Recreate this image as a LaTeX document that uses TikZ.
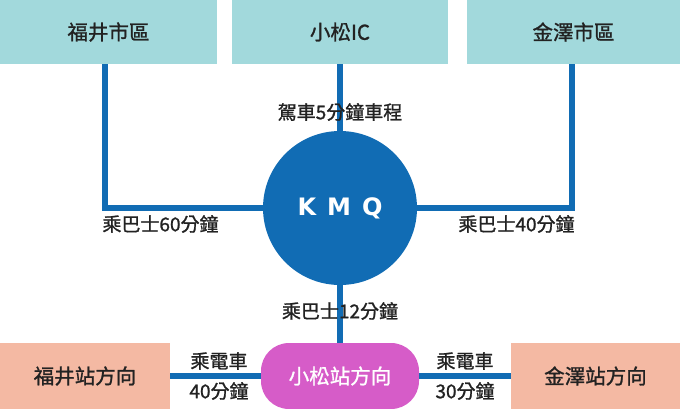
\documentclass[tikz,border=0pt]{standalone}
\usepackage{fontspec}
\setmainfont{Noto Sans CJK TC}[FakeBold=1.2]
\newfontfamily\logofont{DejaVu Sans}
\usetikzlibrary{positioning}
\definecolor{areateal}{HTML}{A2D9DC}
\definecolor{routeblue}{HTML}{116CB4}
\definecolor{pillpink}{HTML}{D65CC8}
\definecolor{stationsalmon}{HTML}{F4B9A3}
\definecolor{inkgrey}{HTML}{222222}

\begin{document}
\begin{tikzpicture}[x=1pt,y=-1pt,
			area/.style = {fill = areateal, minimum height = 64pt, inner sep = 0pt,
				text = inkgrey, font = \fontsize{20.5}{24}\selectfont},
			station/.style = {fill = stationsalmon, minimum height = 66pt, inner sep = 0pt,
				text = inkgrey, font = \fontsize{20.5}{24}\selectfont},
			hub/.style = {circle, fill = routeblue, minimum size = 154pt, inner sep = 0pt,
				text = white, font = \logofont\bfseries\fontsize{24}{28}\selectfont},
			pill/.style = {fill = pillpink, rounded corners = 28pt, minimum width = 158pt,
				minimum height = 66pt, inner sep = 0pt, text = white,
				font = \fontsize{20.5}{24}\selectfont},
			route/.style = {draw = routeblue, line width = 6pt},
			ride/.style = {inner sep = 0pt, text = inkgrey, font = \fontsize{19}{22}\selectfont}
		]
			\useasboundingbox (0,0) rectangle (680,408);
			% areas on top
			\node (fukuishi) [area, minimum width = 217pt] at (108.5,32) {福井市區};
			\node (komatsuic) [area, minimum width = 216pt] at (340,32) {小松IC};
			\node (kanazawashi) [area, minimum width = 213pt] at (573.5,32) {金澤市區};
			% hub
			\node (kmq) [hub] at (340,208) {K\kern11pt M\kern11pt Q};
			% stations below
			\node (fukuieki) [station, minimum width = 170pt] at (85,376) {福井站方向};
			\node (komatsueki) [pill] at (340,376) {小松站方向};
			\node (kanazawaeki) [station, minimum width = 169pt] at (595.5,376) {金澤站方向};
			% routes
			\draw [route] ([xshift = -3.5pt]fukuishi.south) |- (kmq);
			\draw [route] (komatsuic) -- (kmq);
			\draw [route] ([xshift = -1.5pt]kanazawashi.south) |- (kmq);
			\draw [route] (kmq) -- (komatsueki);
			\draw [route] (fukuieki) -- (komatsueki);
			\draw [route] (kanazawaeki) -- (komatsueki);
			% times
			\node (drive) [ride] at (340,112) {駕車5分鐘車程};
			\node (busfukui) [ride] at (160.5,224) {乘巴士60分鐘};
			\node (buskanazawa) [ride] at (516.5,224) {乘巴士40分鐘};
			\node (buskomatsu) [ride] at (340,311) {乘巴士12分鐘};
			\node (trainwest) [ride] at (219,361) {乘電車};
			\node (trainwesttime) [ride] at (219,391) {40分鐘};
			\node (traineast) [ride] at (465,361) {乘電車};
			\node (traineasttime) [ride] at (465,391) {30分鐘};
		\end{tikzpicture}
\end{document}
